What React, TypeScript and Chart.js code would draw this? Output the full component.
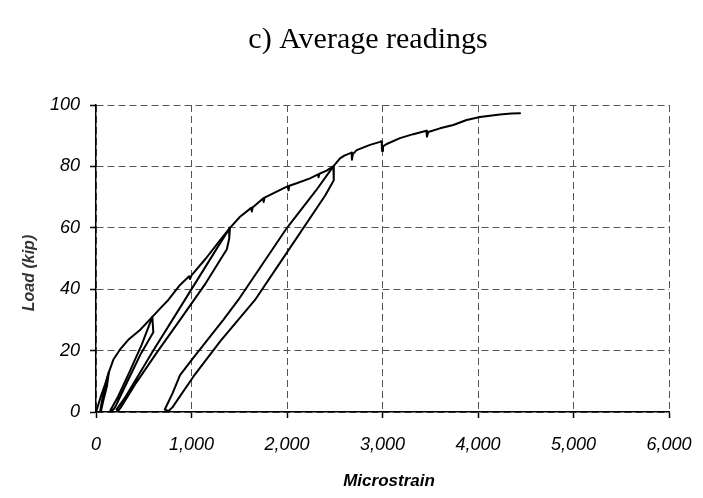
import React, { useEffect, useRef } from "react";
import { Chart, registerables } from "chart.js";

Chart.register(...registerables);

// ---- Data (microstrain vs load in kip) ----
const xTickValues = [0, 1000, 2000, 3000, 4000, 5000, 6000];
const yTickValues = [0, 20, 40, 60, 80, 100];

// Monotonic loading envelope (with small drops)
const envelopeStrain = [0, 45, 95, 135, 181, 250, 338, 461, 590, 680, 757, 880, 975, 985, 1000, 1150, 1300, 1403, 1508, 1625, 1632, 1640, 1752, 1755, 1765, 1892, 2010, 2016, 2025, 2101, 2241, 2325, 2330, 2340, 2415, 2485, 2555, 2600, 2677, 2680, 2690, 2730, 2869, 2974, 2991, 2995, 3005, 3044, 3183, 3322, 3460, 3465, 3480, 3602, 3741, 3881, 4021, 4230, 4350, 4440];
const envelopeLoad = [0, 4.5, 9, 13, 17, 20.3, 23.5, 26.7, 31, 34, 36.5, 41.4, 44.2, 43.3, 44.5, 50, 56, 60, 63.6, 66.5, 65.3, 66.6, 69.6, 68.4, 69.8, 71.8, 73.6, 72.2, 73.7, 74.5, 76.1, 77.4, 76.5, 77.6, 78.6, 80, 82.6, 83.5, 84.5, 82.2, 84.0, 85.3, 87, 88, 88.2, 85, 86.5, 87.3, 89.2, 90.5, 91.6, 89.7, 91.2, 92.4, 93.5, 95.1, 96.1, 96.9, 97.2, 97.3];

// Unload / reload cycles
const cycle13Strain = [135, 110, 70, 45, 50, 75, 115, 135];
const cycle13Load = [13, 10, 5, 0.5, 0, 3.5, 8.5, 13];

const cycle31Strain = [590, 600, 470, 330, 200, 160, 150, 230, 350, 480, 590];
const cycle31Load = [31, 26, 19, 10, 1.5, 0, 0.5, 5, 13, 22, 31];

const cycle60Strain = [1403, 1395, 1370, 1150, 880, 640, 420, 260, 230, 215, 300, 600, 880, 1100, 1300, 1403];
const cycle60Load = [60, 56.5, 53, 42, 30, 19.5, 9.5, 1.5, 0.3, 0.8, 4.5, 20, 34, 45, 55, 60];

const cycle80Strain = [2485, 2492, 2488, 2400, 2000, 1665, 1300, 1019, 800, 760, 720, 800, 880, 900, 1002, 1333, 1490, 2000, 2300, 2485];
const cycle80Load = [80, 77, 75.5, 70.5, 52, 36.5, 23, 11.5, 1.5, 0.3, 0.8, 6, 12, 12.8, 17, 30, 36.5, 60, 72, 80];

const titleText = "c) Average readings";
const xTitle = "Microstrain";
const yTitle = "Load (kip)";

function pts(xs: number[], ys: number[]) {
  return xs.map((x, i) => ({ x, y: ys[i] }));
}

const series = [
  [envelopeStrain, envelopeLoad],
  [cycle13Strain, cycle13Load],
  [cycle31Strain, cycle31Load],
  [cycle60Strain, cycle60Load],
  [cycle80Strain, cycle80Load],
];

const SANS = "'Liberation Sans', Arial, sans-serif";

export default function App() {
  const ref = useRef<HTMLCanvasElement | null>(null);

  useEffect(() => {
    if (!ref.current) return;
    const textPlugin = {
      id: "chartTexts",
      afterDraw(chart: any) {
        const ctx = chart.ctx;
        ctx.save();
        ctx.fillStyle = "#000";
        ctx.textAlign = "center";
        ctx.textBaseline = "alphabetic";
        ctx.font = "30px 'Liberation Serif', 'Times New Roman', serif";
        ctx.fillText(titleText, 368, 48);

        ctx.textBaseline = "middle";
        ctx.font = `italic bold 17px ${SANS}`;
        ctx.fillText(xTitle, 389, 481);

        ctx.fillStyle = "#333";
        ctx.font = `italic bold 16px ${SANS}`;
        ctx.translate(30, 273);
        ctx.rotate(-Math.PI / 2);
        ctx.fillText(yTitle, 0, 0);
        ctx.restore();
      },
    };
    const chart = new Chart(ref.current, {
      type: "scatter",
      data: {
        datasets: series.map(([xs, ys]) => ({
          data: pts(xs, ys),
          showLine: true,
          borderColor: "#000",
          backgroundColor: "#000",
          borderWidth: 2,
          pointRadius: 0,
          pointHoverRadius: 0,
          tension: 0,
          borderJoinStyle: "round" as const,
          borderCapStyle: "round" as const,
        })),
      },
      options: {
        animation: false,
        responsive: false,
        events: [],
        layout: { padding: { top: 105, right: 34, left: 0, bottom: 0 } },
        plugins: {
          legend: { display: false },
          tooltip: { enabled: false },
          title: { display: false },
        },
        scales: {
          x: {
            type: "linear",
            min: 0,
            max: 6000,
            afterFit: (s: any) => {
              s.height = 86;
              s.paddingLeft = 0;
              s.paddingRight = 0;
            },
            afterBuildTicks: (s: any) => {
              s.ticks = xTickValues.map((v) => ({ value: v }));
            },
            ticks: {
              color: "#000",
              padding: 16,
              font: { family: SANS, size: 18, style: "italic" },
              callback: (v: any) => Number(v).toLocaleString("en-US"),
            },
            grid: {
              color: "#555",
              lineWidth: 1,
              tickLength: 6,
              tickColor: "#000",
              tickWidth: 1.5,
              tickBorderDash: [],
            },
            border: { display: true, color: "#000", width: 1.5, dash: [7, 4] },
            title: { display: false },
          },
          y: {
            type: "linear",
            min: 0,
            max: 100,
            afterFit: (s: any) => {
              s.width = 96;
            },
            afterBuildTicks: (s: any) => {
              s.ticks = yTickValues.map((v) => ({ value: v }));
            },
            ticks: {
              color: "#000",
              padding: 10,
              font: { family: SANS, size: 18, style: "italic" },
            },
            grid: {
              color: "#555",
              lineWidth: 1,
              tickLength: 6,
              tickColor: "#000",
              tickWidth: 1.5,
              tickBorderDash: [],
            },
            border: { display: true, color: "#000", width: 1.5, dash: [7, 4] },
            title: { display: false },
          },
        },
      },
      plugins: [textPlugin],
    } as any);
    return () => chart.destroy();
  }, []);

  return (
    <div style={{ position: "fixed", left: 0, top: 0, width: 703, height: 498, background: "#fff" }}>
      <canvas ref={ref} width={703} height={498} style={{ display: "block" }} />
    </div>
  );
}
